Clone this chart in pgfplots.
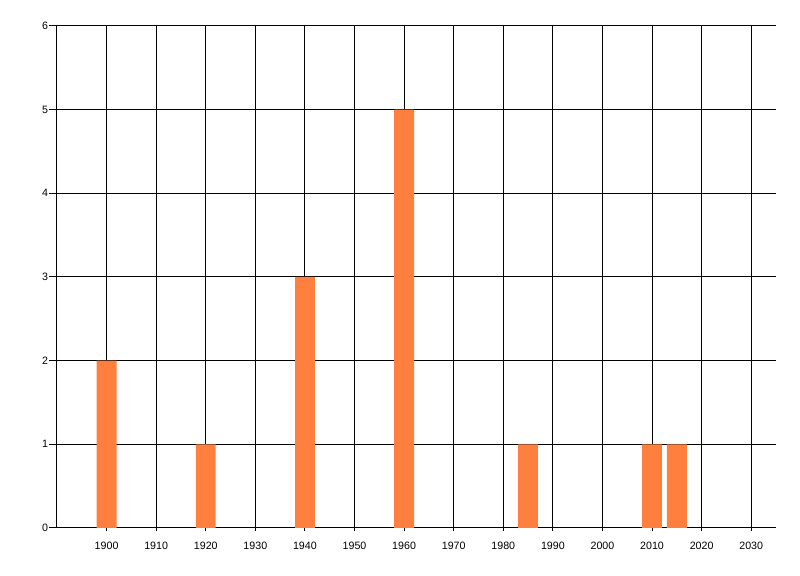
\documentclass[border=0pt]{standalone}
\usepackage{fontspec}
\setmainfont{Liberation Sans}
\usepackage{pgfplots}
\pgfplotsset{compat=1.18}
\definecolor{barOrange}{RGB}{255,127,63}

\begin{document}
\begin{tikzpicture}
  \begin{axis}[
      scale only axis,
      width=539.25pt, height=376.5pt,
      xmin=1890, xmax=2035, ymin=0, ymax=6,
      axis x line=bottom, axis y line=left,
      axis line style={-, line width=0.75pt},
      xtick={1900,1910,...,2030},
      ytick={0,1,...,6},
      xticklabel style={/pgf/number format/1000 sep={}},
      /pgf/number format/assume math mode=true,
      ticklabel style={font=\fontsize{8}{9}\selectfont},
      grid=major,
      major grid style={black, line width=0.75pt},
      x tick style={black, line width=0.75pt},
      y tick style={black, line width=0.75pt},
      xtick align=outside, ytick align=outside,
      xtick pos=bottom, ytick pos=left,
      major x tick style={/pgfplots/major tick length=2pt},
      major y tick style={/pgfplots/major tick length=6pt},
      xticklabel shift=3pt,
      yticklabel shift=-1pt,
      ybar, bar width=4, bar shift=0pt,
    ]
    \addplot[fill=barOrange, draw=none] coordinates {
      (1900,2) (1920,1) (1940,3) (1960,5) (1985,1) (2010,1) (2015,1)
    };
  \end{axis}
  \path[use as bounding box] ([xshift=-42.75pt,yshift=-36pt]current axis.south west)
    rectangle ([xshift=18pt,yshift=19.5pt]current axis.north east);
\end{tikzpicture}
\end{document}
